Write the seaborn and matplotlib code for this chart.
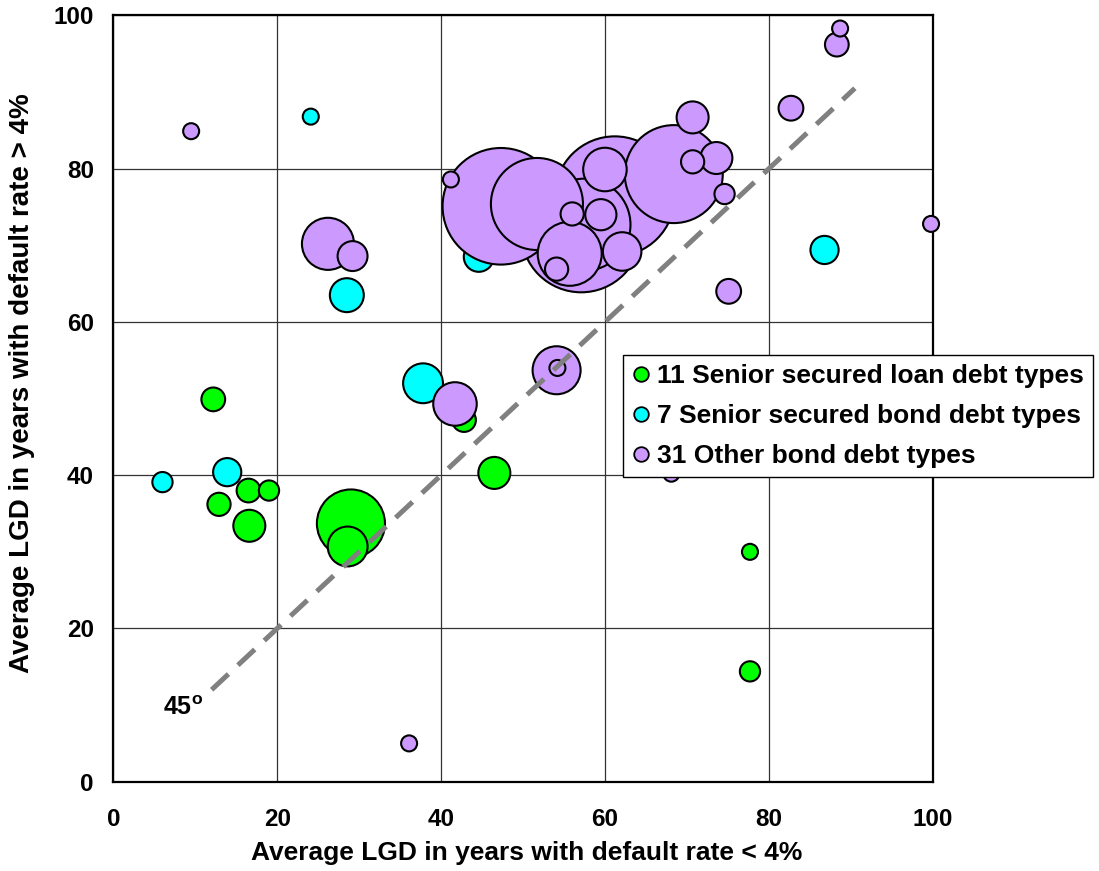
import pandas as pd
import seaborn as sns
import matplotlib.pyplot as plt
from matplotlib.lines import Line2D

# bubble data: x = avg LGD (default rate < 4%), y = avg LGD (default rate > 4%), w = bubble weight
loan_x = [12.2, 12.9, 16.6, 16.5, 19.0, 29.0, 28.6, 42.8, 46.5, 77.7, 77.7]
loan_y = [49.9, 36.2, 33.4, 38.0, 38.0, 33.7, 30.7, 47.2, 40.3, 30.0, 14.4]
loan_w = [22, 21, 40, 22, 16, 181, 62, 22, 40, 10, 16]

bond_x = [6.0, 13.9, 24.1, 28.5, 37.8, 44.6, 86.8]
bond_y = [39.1, 40.4, 86.8, 63.5, 52.0, 68.5, 69.4]
bond_w = [16, 31, 10, 45, 62, 35, 31]

other_x = [9.5, 36.1, 26.2, 29.2, 41.7, 54.1, 54.2, 41.2, 47.3, 51.7,
           57.5, 57.1, 61.2, 68.4, 55.7, 54.1, 56.0, 59.5, 60.0, 62.1,
           70.7, 70.7, 73.6, 74.6, 75.1, 82.7, 88.3, 88.7, 99.8, 68.1]
other_y = [84.9, 5.0, 70.2, 68.6, 49.3, 53.7, 54.0, 78.6, 75.1, 75.4,
           72.7, 71.7, 76.4, 79.3, 68.9, 66.9, 74.1, 74.0, 79.9, 69.2,
           86.7, 80.9, 81.4, 76.7, 64.0, 87.9, 96.2, 98.3, 72.8, 40.2]
other_w = [10, 10, 106, 35, 74, 90, 10, 10, 531, 331,
           331, 562, 562, 375, 160, 21, 21, 38, 74, 58,
           40, 21, 40, 16, 24, 24, 22, 10, 10, 10]

labels = ['11 Senior secured loan debt types',
          '7 Senior secured bond debt types',
          '31 Other bond debt types']
colors = ['#00FF00', '#00FFFF', '#CC99FF']
diag = [12, 90.5]

sns.set_style('white')
plt.rcParams['font.family'] = ['Liberation Sans', 'DejaVu Sans']
plt.rcParams['font.weight'] = 'bold'
for k in ['text.color', 'axes.labelcolor', 'xtick.color', 'ytick.color']:
    plt.rcParams[k] = 'black'

fig = plt.figure(figsize=(10.99, 8.71), dpi=100)
ax = fig.add_axes([113.3 / 1099, 1 - 781.7 / 871, 819.4 / 1099, 766.2 / 871])

groups = [(loan_x, loan_y, loan_w), (bond_x, bond_y, bond_w), (other_x, other_y, other_w)]
for (gx, gy, gw), col in zip(groups, colors):
    df = pd.DataFrame({'x': gx, 'y': gy, 'w': gw}).sort_values('w', ascending=False)
    sns.scatterplot(data=df, x='x', y='y', size='w', sizes=(0, 13.27 * 600), size_norm=(0, 600),
                    color=col, edgecolor='black', linewidth=1.5, alpha=1, legend=False,
                    ax=ax, clip_on=False, zorder=3)

ax.plot(diag, diag, color='#808080', lw=3.6, dashes=(4.6, 2.6), solid_capstyle='butt',
        dash_capstyle='butt', zorder=4)
ax.text(8.5, 9.6, '45$^{\\mathregular{o}}$', fontsize=18, fontweight='bold', ha='center', va='center')

ax.set_xlim(0, 100)
ax.set_ylim(0, 100)
ax.set_xticks(range(0, 101, 20))
ax.set_yticks(range(0, 101, 20))
ax.grid(True, color='#333333', lw=0.9)
ax.set_axisbelow(True)
for sp in ax.spines.values():
    sp.set_color('black')
    sp.set_linewidth(1.6)
    sp.set_visible(True)
ax.tick_params(direction='out', length=5.5, width=1.5, color='black', labelsize=17.5)
ax.tick_params(axis='x', pad=13.5)
ax.tick_params(axis='y', pad=8.5)

ax.set_xlabel('Average LGD in years with default rate < 4%', fontsize=19, fontweight='bold')
ax.set_ylabel('Average LGD in years with default rate > 4%', fontsize=20, fontweight='bold')
ax.xaxis.set_label_coords(0.505, -0.077)
ax.yaxis.set_label_coords(-0.096, 0.52)

handles = [Line2D([], [], marker='o', ls='none', markersize=10.5, markerfacecolor=c,
                  markeredgecolor='black', markeredgewidth=1.3) for c in colors]
leg = ax.legend(handles, labels, loc='upper left', bbox_to_anchor=(623 / 1099, 1 - 355 / 871),
                bbox_transform=fig.transFigure, borderaxespad=0, frameon=True, fancybox=False,
                framealpha=1, edgecolor='black', prop={'size': 19, 'weight': 'bold'},
                handlelength=0.7, handletextpad=0.25, labelspacing=0.6, borderpad=0.35)
leg.get_frame().set_linewidth(1.0)
leg.set_zorder(10)

plt.savefig('out.png', dpi=100)
